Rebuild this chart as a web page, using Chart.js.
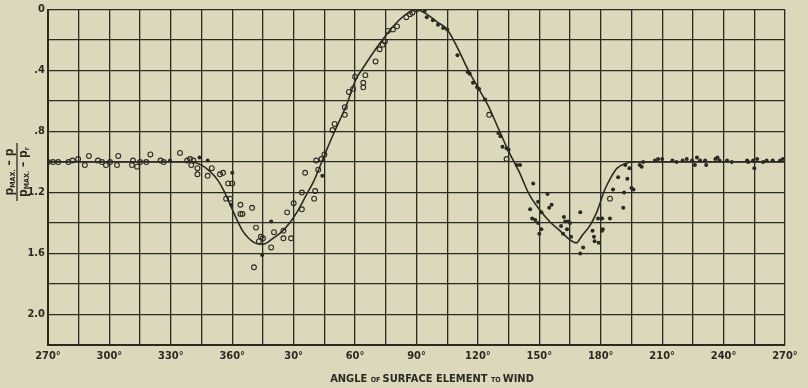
<!DOCTYPE html>
<html>
<head>
<meta charset="utf-8">
<script src="https://cdn.jsdelivr.net/npm/chart.js@4.4.1/dist/chart.umd.min.js"></script>
<style>
  html, body { margin: 0; padding: 0; background: #dcd8bc; }
  canvas { display: block; }
</style>
</head>
<body>
<canvas id="pressureChart" width="808" height="388"></canvas>
<script>
// angles are unwrapped: 270..630 stands for 270°..360°..270°
const curveAngle = [270, 300, 330, 340, 345, 349, 353, 356, 359, 362, 365, 368, 371, 375, 380, 384, 388, 392, 396, 400, 404, 408, 412, 416, 420, 425, 430, 435, 440, 445, 450, 455, 460, 465, 470, 475, 480, 485, 490, 495, 500, 505, 510, 515, 520, 525, 528, 531, 535, 538, 542, 545, 548, 552, 556, 570, 600, 630];
const curveValue = [1.0, 1.0, 1.0, 1.0, 1.02, 1.06, 1.12, 1.19, 1.28, 1.37, 1.45, 1.50, 1.53, 1.54, 1.50, 1.46, 1.40, 1.32, 1.22, 1.12, 0.99, 0.86, 0.74, 0.62, 0.47, 0.36, 0.26, 0.17, 0.09, 0.03, 0.0, 0.03, 0.08, 0.13, 0.25, 0.39, 0.51, 0.63, 0.78, 0.93, 1.06, 1.21, 1.31, 1.39, 1.45, 1.51, 1.53, 1.48, 1.41, 1.33, 1.18, 1.10, 1.04, 1.01, 1.0, 1.0, 1.0, 1.0];

// open circles
const openAngle = [270, 272.5, 275, 280, 282, 284.7, 288, 290, 294.4, 296.4, 298.3, 300.3, 303.7, 304.3, 311, 311.5, 313.5, 315, 318, 320, 325, 326.5, 334.5, 338, 339.4, 341, 340, 343, 343, 348, 350, 354, 355.5, 358, 360, 357, 359, 364, 364, 365, 369.7, 371.6, 374, 375, 373, 370.6, 379, 380.4, 385, 385, 388.7, 386.8, 390, 394, 394, 400.5, 400, 395.6, 401, 402, 403.6, 405, 409, 410, 415, 415, 417, 419, 420, 424, 424, 425, 430, 432, 433.5, 434.6, 436, 438.5, 440.5, 445, 446.8, 448, 450, 485.5, 494, 544.5];
const openValue = [1.0, 1.0, 1.0, 1.0, 0.99, 0.98, 1.02, 0.96, 0.99, 1.0, 1.02, 1.0, 1.02, 0.96, 1.02, 0.99, 1.03, 1.0, 1.0, 0.95, 0.99, 1.0, 0.94, 0.99, 0.98, 0.99, 1.02, 1.04, 1.08, 1.09, 1.04, 1.08, 1.07, 1.14, 1.14, 1.24, 1.24, 1.28, 1.34, 1.34, 1.30, 1.43, 1.49, 1.50, 1.52, 1.69, 1.56, 1.46, 1.45, 1.50, 1.50, 1.33, 1.27, 1.20, 1.31, 1.19, 1.24, 1.07, 0.99, 1.05, 0.98, 0.95, 0.79, 0.75, 0.69, 0.64, 0.54, 0.52, 0.44, 0.48, 0.51, 0.43, 0.34, 0.26, 0.23, 0.21, 0.14, 0.13, 0.11, 0.05, 0.03, 0.02, 0.0, 0.69, 0.98, 1.24];

// filled dots
const dotAngle = [329.6, 344, 348, 360, 359.5, 374.6, 379, 404, 454, 455, 458, 460.5, 463, 465, 470, 475, 476, 477.6, 479.6, 480.6, 483.5, 490, 491, 492, 494, 495, 499, 500.6, 507, 509.4, 514, 505.5, 516, 514.8, 511, 506.5, 508, 509.4, 511, 510, 520.6, 522.6, 524, 523.5, 525, 522, 521.6, 525.5, 530, 531.4, 530, 536, 536.7, 537, 539, 540.6, 541, 538.7, 540.7, 544.5, 546, 551, 551.4, 553, 555, 556, 548.5, 552, 554, 559, 560.7, 560, 566.5, 568, 570, 575, 577, 580, 582, 584.6, 586, 587, 588.5, 591, 591.5, 596, 597, 598, 601.7, 604, 611.5, 612, 614.4, 615, 616.4, 619.3, 621, 624, 627.6, 629];
const dotValue = [0.99, 0.97, 0.99, 1.07, 1.28, 1.61, 1.39, 1.09, 0.01, 0.05, 0.07, 0.10, 0.12, 0.13, 0.30, 0.41, 0.42, 0.48, 0.51, 0.52, 0.59, 0.81, 0.83, 0.90, 0.91, 0.92, 1.02, 1.02, 1.14, 1.26, 1.21, 1.31, 1.28, 1.30, 1.33, 1.37, 1.38, 1.40, 1.44, 1.47, 1.42, 1.39, 1.39, 1.44, 1.40, 1.36, 1.47, 1.49, 1.33, 1.56, 1.60, 1.45, 1.49, 1.52, 1.53, 1.45, 1.44, 1.37, 1.37, 1.37, 1.18, 1.30, 1.20, 1.11, 1.17, 1.18, 1.10, 1.02, 1.04, 1.02, 1.0, 1.03, 0.99, 0.98, 0.98, 0.99, 1.0, 0.99, 0.98, 0.99, 1.02, 0.97, 0.99, 0.99, 1.02, 0.98, 0.97, 0.99, 0.99, 1.0, 0.99, 1.0, 0.99, 1.04, 0.98, 1.0, 0.99, 0.99, 0.99, 0.98];

const yLabelValues = [0, 0.4, 0.8, 1.2, 1.6, 2.0];
const yLabelText = ['0', '.4', '.8', '1.2', '1.6', '2.0'];

const INK = '#2b2a22';
const FONT = '"DejaVu Sans Condensed", "DejaVu Sans", sans-serif';

const toXY = (xs, ys) => xs.map((x, i) => ({ x: x, y: ys[i] }));

// draws a row of text pieces of mixed sizes, centred on (cx, cy)
function drawRuns(ctx, runs, cx, cy) {
    let total = 0;
    runs.forEach(r => {
        ctx.font = 'bold ' + r.size + 'px ' + FONT;
        r.w = ctx.measureText(r.text).width;
        total += r.w;
    });
    let x = cx - total / 2;
    ctx.textAlign = 'left';
    ctx.textBaseline = 'alphabetic';
    runs.forEach(r => {
        ctx.font = 'bold ' + r.size + 'px ' + FONT;
        ctx.fillText(r.text, x, cy + (r.dy || 0));
        x += r.w;
    });
}

const titles = {
    id: 'titles',
    afterDraw(chart) {
        const ctx = chart.ctx;
        ctx.save();
        ctx.fillStyle = INK;
        drawRuns(ctx, [
            { text: 'ANGLE ', size: 11 },
            { text: 'OF ', size: 7 },
            { text: 'SURFACE ELEMENT ', size: 11 },
            { text: 'TO ', size: 7 },
            { text: 'WIND', size: 11 }
        ], 432, 382);

        // y title as a fraction, turned on its side
        ctx.translate(17, 172);
        ctx.rotate(-Math.PI / 2);
        ctx.strokeStyle = INK;
        ctx.lineWidth = 1.3;
        ctx.beginPath();
        ctx.moveTo(-29, 0);
        ctx.lineTo(29, 0);
        ctx.stroke();
        drawRuns(ctx, [
            { text: 'p', size: 12 },
            { text: 'MAX.', size: 7, dy: 2 },
            { text: ' \u2013 p', size: 12 }
        ], 0, -4);
        drawRuns(ctx, [
            { text: 'p', size: 12 },
            { text: 'MAX.', size: 7, dy: 2 },
            { text: ' \u2013 p', size: 12 },
            { text: 'r', size: 7, dy: 2 }
        ], 0, 10);
        ctx.restore();
    }
};

const ctx = document.getElementById('pressureChart').getContext('2d');
new Chart(ctx, {
    type: 'scatter',
    data: {
        datasets: [
            {
                type: 'line',
                data: toXY(curveAngle, curveValue),
                borderColor: INK,
                borderWidth: 1.6,
                pointRadius: 0,
                cubicInterpolationMode: 'monotone',
                fill: false
            },
            {
                data: toXY(openAngle, openValue),
                pointStyle: 'circle',
                pointRadius: 2.4,
                borderWidth: 1.1,
                borderColor: INK,
                backgroundColor: 'rgba(0,0,0,0)'
            },
            {
                data: toXY(dotAngle, dotValue),
                pointStyle: 'circle',
                pointRadius: 2,
                borderWidth: 0,
                backgroundColor: INK
            }
        ]
    },
    options: {
        responsive: false,
        animation: false,
        layout: { padding: { top: 7, right: 23, left: 0, bottom: 0 } },
        plugins: {
            legend: { display: false },
            tooltip: { enabled: false }
        },
        scales: {
            x: {
                type: 'linear',
                min: 270,
                max: 630,
                afterFit(scale) { scale.height = 43; },
                ticks: {
                    stepSize: 15,
                    autoSkip: false,
                    maxRotation: 0,
                    padding: 5,
                    color: INK,
                    font: { family: FONT, size: 11, weight: 'bold' },
                    callback: v => (v % 30 === 0 ? (v > 360 ? v - 360 : v) + '°' : '')
                },
                grid: { color: INK, lineWidth: 1.3, drawTicks: false },
                border: { color: INK, width: 2 }
            },
            y: {
                min: 0,
                max: 2.2,
                reverse: true,
                afterFit(scale) { scale.width = 48; },
                ticks: {
                    stepSize: 0.2,
                    autoSkip: false,
                    padding: 3,
                    color: INK,
                    font: { family: FONT, size: 11, weight: 'bold' },
                    callback: v => {
                        const i = yLabelValues.findIndex(t => Math.abs(t - v) < 1e-6);
                        return i >= 0 ? yLabelText[i] : '';
                    }
                },
                grid: { color: INK, lineWidth: 1.3, drawTicks: false },
                border: { color: INK, width: 2 }
            }
        }
    },
    plugins: [titles]
});
</script>
</body>
</html>
